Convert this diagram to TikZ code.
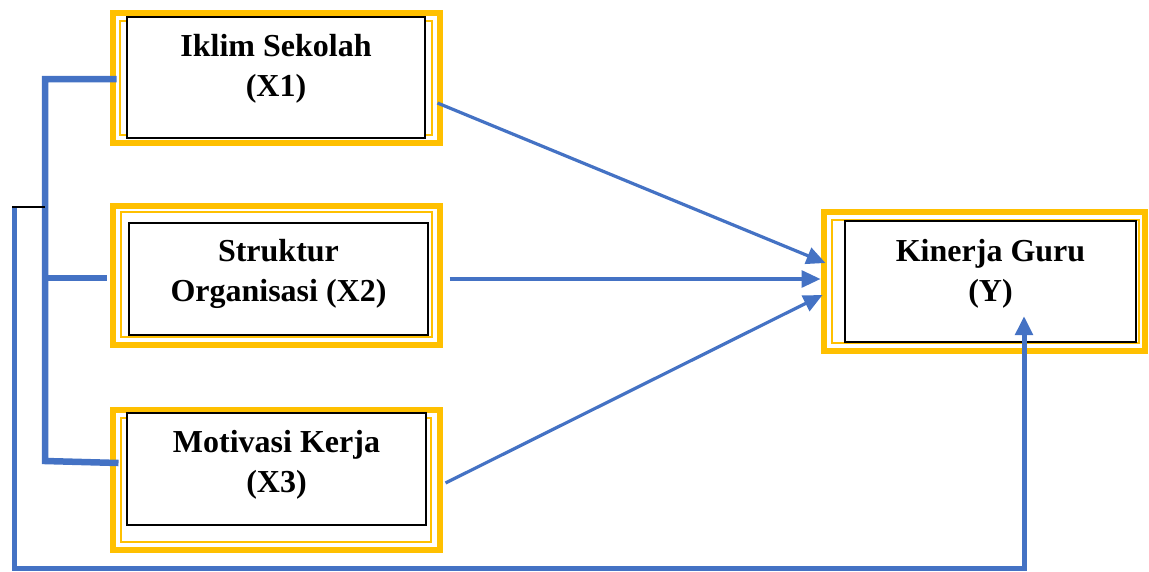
\documentclass[tikz,border=0pt]{standalone}
\usepackage{fontspec}
\setmainfont{Liberation Serif}
\usepackage{xcolor}
\usetikzlibrary{positioning,arrows.meta}
\definecolor{gold}{HTML}{FFC000}
\definecolor{linkblue}{HTML}{4472C4}
\tikzset{
goldframe/.style={
  draw=gold,
  line width=6pt,
  rectangle,
  inner sep=0pt
  },
goldrule/.style={
  draw=gold,
  line width=2pt,
  rectangle,
  inner sep=0pt
  },
varbox/.style={
  draw,
  line width=2pt,
  rectangle,
  inner sep=0pt
  },
vartext/.style={
  align=center,
  inner sep=0pt,
  font=\bfseries\fontsize{32}{40}\selectfont
  },
line/.style={draw=linkblue, line width=3.2pt, -{Triangle[length=19pt,width=17pt]}},
bracket/.style={draw=linkblue, line width=6.5pt, line join=miter},
loopline/.style={draw=linkblue, line width=5pt, -{Triangle[length=19pt,width=17pt]}}
}

\begin{document}
\begin{tikzpicture}[x=1pt,y=-1pt]
\useasboundingbox (0,0) rectangle (1149,571);
\node[goldframe, minimum width=327pt, minimum height=130pt](f1) at (276,77.5){};
\node[goldrule, minimum width=312pt, minimum height=114pt](r1) at (276,78){};
\node[varbox, fill=white, minimum width=298pt, minimum height=121pt](b1) at (276,77.5){};
\node[vartext, below=18pt of b1.north](t1){Iklim Sekolah\\(X1)};
\node[goldframe, minimum width=327pt, minimum height=139pt](f2) at (276,275){};
\node[goldrule, minimum width=311pt, minimum height=125pt](r2) at (276.5,274.5){};
\node[varbox, minimum width=299pt, minimum height=112pt](b2) at (278.5,279){};
\node[vartext, below=17pt of b2.north](t2){Struktur\\Organisasi (X2)};
\node[goldframe, minimum width=327pt, minimum height=140pt](f3) at (276,479.5){};
\node[goldrule, minimum width=310pt, minimum height=124pt](r3) at (276,480){};
\node[varbox, fill=white, minimum width=299pt, minimum height=112pt](b3) at (276.5,469){};
\node[vartext, below=18pt of b3.north](t3){Motivasi Kerja\\(X3)};
\node[goldframe, minimum width=321pt, minimum height=139pt](f4) at (984,281){};
\node[goldrule, minimum width=307pt, minimum height=123pt](r4) at (985.5,281.5){};
\node[varbox, minimum width=291pt, minimum height=121pt](b4) at (990.5,281.5){};
\node[vartext, below=19pt of b4.north](t4){Kinerja Guru\\(Y)};
\coordinate (s1) at (45,79);
\coordinate (s2) at (45,278);
\coordinate (s3) at (45,461);
\coordinate (tick) at (12,207);
\coordinate (corner) at (14,568);
\draw[bracket] ([xshift=7pt,yshift=-1.5pt]f1.west) -- (s1) -- (s3) -- ([xshift=9pt,yshift=16.5pt]f3.west);
\draw[bracket] (s2) -- ([xshift=-3pt,yshift=-3pt]f2.west);
\draw[line width=1.5pt] (tick) -- (s1 |- tick);
\draw[loopline] ([xshift=2pt,yshift=-1pt]tick) -- (corner) -| ([xshift=33.5pt,yshift=27pt]b4.south);
\draw[line] ([xshift=-5pt,yshift=-25.5pt]f1.east) -- ([xshift=5pt,yshift=18pt]f4.west);
\draw[line] ([xshift=7pt,yshift=-4pt]f2.east) -- ([yshift=-4pt]f2.east -| f4.west);
\draw[line] ([xshift=3pt,yshift=-3.5pt]f3.east) -- ([xshift=2pt,yshift=-14pt]f4.west);
\end{tikzpicture}
\end{document}
